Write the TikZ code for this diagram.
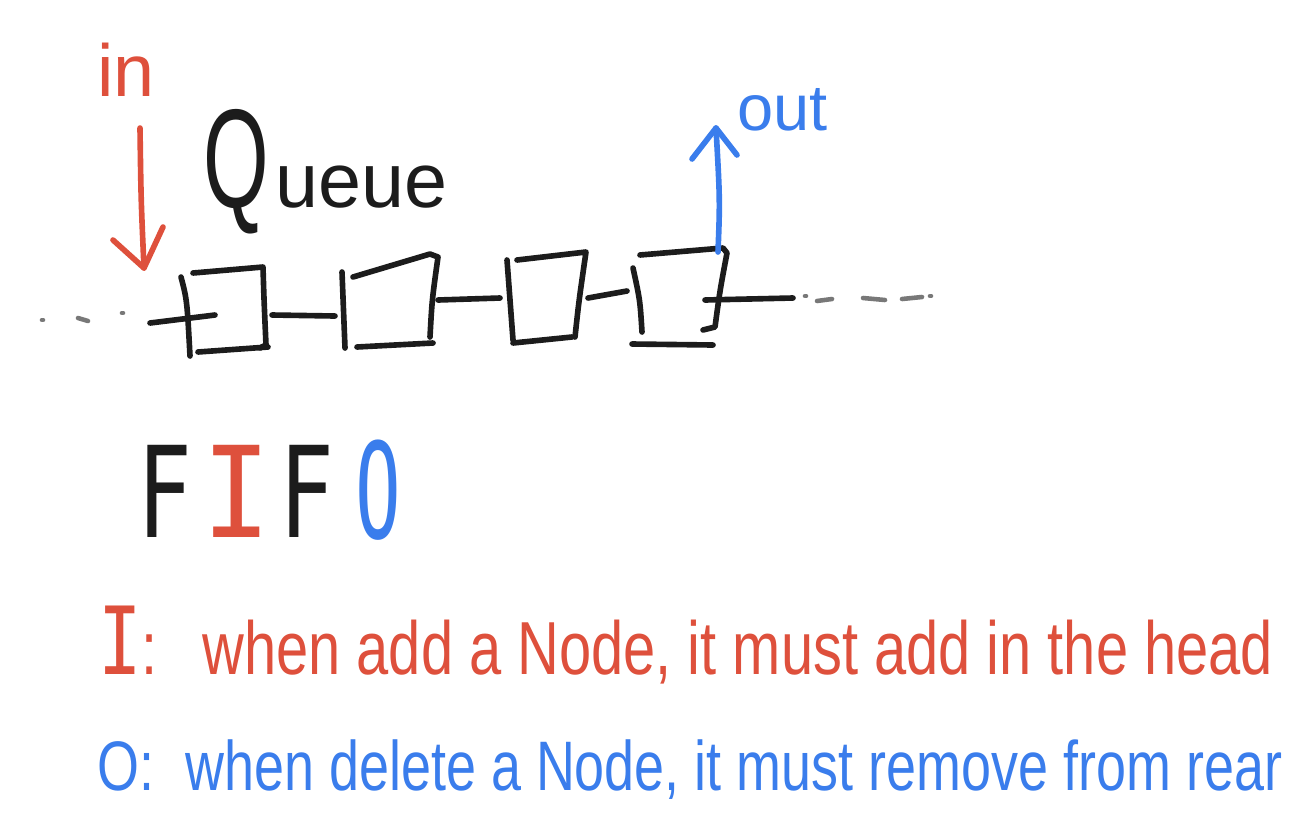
\documentclass[tikz,border=0pt]{standalone}
\usepackage{fontspec}
\setmainfont{Liberation Sans}
\newfontfamily\monof{DejaVu Sans Mono}
\usepackage{graphicx}
\definecolor{inkc}{RGB}{28,28,28}
\definecolor{redc}{RGB}{222,80,60}
\definecolor{bluec}{RGB}{58,125,236}
\definecolor{dotc}{RGB}{120,120,120}
\tikzset{
  ink/.style={draw=inkc, line width=3.2pt, line cap=round, line join=round},
  dotpen/.style={draw=dotc, line width=2.6pt, line cap=round},
  redpen/.style={draw=redc, line width=3.2pt, line cap=round, line join=round},
  bluepen/.style={draw=bluec, line width=3.2pt, line cap=round, line join=round},
  redtext/.style={text=redc, inner sep=0pt},
  bluetext/.style={text=bluec, inner sep=0pt},
  inktext/.style={text=inkc, inner sep=0pt}
}
\begin{document}
\begin{tikzpicture}[x=0.02cm,y=-0.02cm]
\useasboundingbox (0,0) rectangle (1304,836);
% ---- queue drawing ----
% left dashes
\draw[dotpen] (42,320) -- (43,320);
\draw[dotpen] (78,318) -- (88,321);
\draw[dotpen] (122,313) -- (123,313);
% box 1
\draw[ink] (150,323) -- (215,315);
\draw[ink] (181,277) .. controls (187,300) .. (190,356);
\draw[ink] (193,273) -- (263,267) .. controls (264,300) .. (266,345) -- (260,348);
\draw[ink] (198,352) -- (268,347);
\draw[ink] (272,315) -- (335,316);
% box 2
\draw[ink] (342,272) .. controls (343,310) .. (345,348);
\draw[ink] (353,277) -- (430,254) -- (438,257) .. controls (432,300) .. (430,337);
\draw[ink] (357,347) -- (433,343);
\draw[ink] (438,300) -- (500,298);
% box 3
\draw[ink] (507,260) .. controls (511,300) .. (513,340);
\draw[ink] (517,260) -- (586,252) .. controls (579,300) .. (575,337);
\draw[ink] (513,343) -- (572,337);
\draw[ink] (588,298) -- (627,291);
% box 4
\draw[ink] (633,268) .. controls (640,300) .. (642,332);
\draw[ink] (640,255) -- (723,248) -- (727,253) .. controls (720,290) .. (715,327) -- (703,330);
\draw[ink] (632,344) -- (713,345);
\draw[ink] (705,300) -- (793,298);
% right dashes
\draw[dotpen] (805,296) -- (806,296);
\draw[dotpen] (817,301) -- (832,299);
\draw[dotpen] (863,298) -- (885,300);
\draw[dotpen] (902,299) -- (922,297);
\draw[dotpen] (930,296) -- (931,296);
% ---- in arrow ----
\coordinate (inTop) at (140,128);
\coordinate (inTip) at (144,268);
\draw[redpen] (inTop) .. controls (141,200) .. (inTip);
\draw[redpen] (113,240) -- (inTip) -- (163,227);
\node[redtext, anchor=base] (inlbl) at (126,96) {\fontsize{42}{48}\selectfont in};
% ---- out arrow ----
\coordinate (outBot) at (718,252);
\coordinate (outTip) at (716,128);
\draw[bluepen] (outBot) .. controls (720,200) .. (outTip);
\draw[bluepen] (692,159) -- (outTip) -- (737,155);
\node[bluetext, anchor=base west] (outlbl) at (737,130) {\fontsize{37}{42}\selectfont out};
% ---- Queue ----
\node[inktext, anchor=base west] (queue) at (203,207) {\scalebox{0.6}[1]{\fontsize{80}{88}\selectfont Q}\hspace{4pt}\fontsize{44}{50}\selectfont ueue};
% ---- FIFO ----
\node[inktext, anchor=base] (f1) at (165,537) {\scalebox{0.72}[1]{\fontsize{72}{80}\selectfont\monof F}};
\node[redtext, anchor=base] (i1) at (237,537) {\scalebox{0.9}[1]{\fontsize{72}{80}\selectfont\monof I}};
\node[inktext, anchor=base] (f2) at (307,537) {\scalebox{0.72}[1]{\fontsize{72}{80}\selectfont\monof F}};
\node[bluetext, anchor=base] (o1) at (378,538) {\scalebox{0.6}[1.05]{\fontsize{72}{80}\selectfont\monof O}};
% ---- explanation lines ----
\node[redtext, anchor=base west] (line1) at (98,674) {\scalebox{1}[1.3]{\resizebox{23.5cm}{!}{{\monof\scalebox{1.25}{I}}:\hspace{0.4em} when add a Node, it must add in the head}}};
\node[bluetext, anchor=base west] (line2) at (97,790) {\scalebox{1}[1.3]{\resizebox{23.7cm}{!}{O:\hspace{0.3em} when delete a Node, it must remove from rear}}};
\end{tikzpicture}
\end{document}
